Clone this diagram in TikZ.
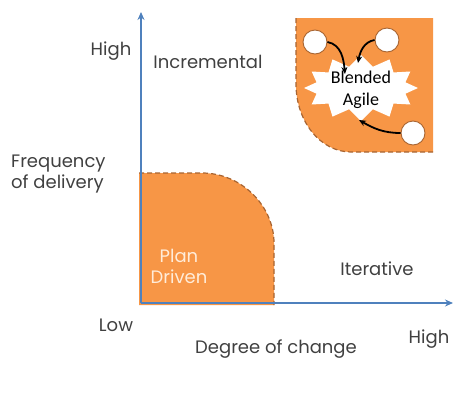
\documentclass[tikz,border=0pt]{standalone}
\usepackage{fontspec}
\setmainfont{Poppins}
\newfontfamily\calibri{Carlito}
\usepackage{xcolor}
\usetikzlibrary{arrows.meta,positioning,shapes.symbols}
\definecolor{zoneorange}{HTML}{F79646}
\definecolor{zoneedge}{HTML}{A86431}
\definecolor{axisblue}{HTML}{4F81BD}
\definecolor{labelgray}{HTML}{404040}

\begin{document}
\begin{tikzpicture}[
    x=1pt, y=-1pt,
    >=Stealth,
    lbl/.style={font=\fontsize{18}{21}\selectfont, color=labelgray, align=center, inner sep=0pt},
    zone/.style={fill=zoneorange},
    edge/.style={draw=zoneedge, dashed, dash pattern=on 5pt off 3pt, line width=1.2pt},
    axis/.style={->, draw=axisblue, line width=1.3pt, >={Stealth[length=8pt,width=7pt]}},
    dot/.style={circle, draw=zoneedge, line width=0.9pt, fill=white, minimum size=24pt, inner sep=0pt},
    flow/.style={->, line width=1.8pt, black, >={Stealth[length=7pt,width=6pt]}},
  ]
  \useasboundingbox (0,0) rectangle (469,405);

  % Plan driven zone (low/low corner)
  \fill[zone] (139,305) -- (139,173) -- (202,173)
    .. controls (241.8,173) and (274,206.3) .. (274,243) -- (274,305) -- cycle;
  \draw[edge] (139,173) -- (202,173)
    .. controls (241.8,173) and (274,206.3) .. (274,243) -- (274,305);

  % Blended agile zone (high/high corner)
  \fill[zone] (296,18) -- (433,18) -- (433,152) -- (351,152)
    .. controls (320.6,152) and (296,121.6) .. (296,84) -- cycle;
  \draw[edge] (296,18) -- (296,84)
    .. controls (296,121.6) and (320.6,152) .. (351,152) -- (433,152);

  % Axes
  \coordinate (origin) at (141,303);
  \coordinate (ytop) at (141,12);
  \coordinate (xend) at (453,303);
  \draw[axis] (origin) -- (ytop);
  \draw[axis] (origin) -- (xend);

  % Blended agile burst and feeding circles
  \node[starburst, random starburst=0, starburst points=12, starburst point height=11pt,
        fill=white, minimum width=114pt, minimum height=66pt, inner sep=0pt] (burst) at (361,88) {};
  \node[font=\calibri\fontsize{18}{22}\selectfont, align=center, inner sep=0pt] (blend) at (361,90)
    {Blended\\Agile};
  \node[dot] (c1) at (315,42) {};
  \node[dot] (c2) at (387,40) {};
  \node[dot] (c3) at (413,133) {};
  \coordinate (tip1) at (345,74);
  \coordinate (tip2) at (358,63);
  \coordinate (tip3) at (359,120);
  \draw[flow] (c1.east) to[out=-10, in=95] (tip1);
  \draw[flow] (c2.west) to[out=190, in=80] (tip2);
  \draw[flow] (c3.west) to[out=180, in=-30] (tip3);

  % Labels
  \node[lbl] (yhigh) at (111,51) {High};
  \node[lbl] (incr) at (208,62) {Incremental};
  \node[lbl, align=left, anchor=west] (freq) at (11,174) {Frequency\\of delivery};
  \node[lbl, color=orange!15] (plan) at (179,266) {Plan\\Driven};
  \node[lbl] (iter) at (377,269) {Iterative};
  \node[lbl] (low) at (116,325) {Low};
  \node[lbl] (degree) at (276,349) {Degree of change};
  \node[lbl] (xhigh) at (429,339) {High};
\end{tikzpicture}
\end{document}
